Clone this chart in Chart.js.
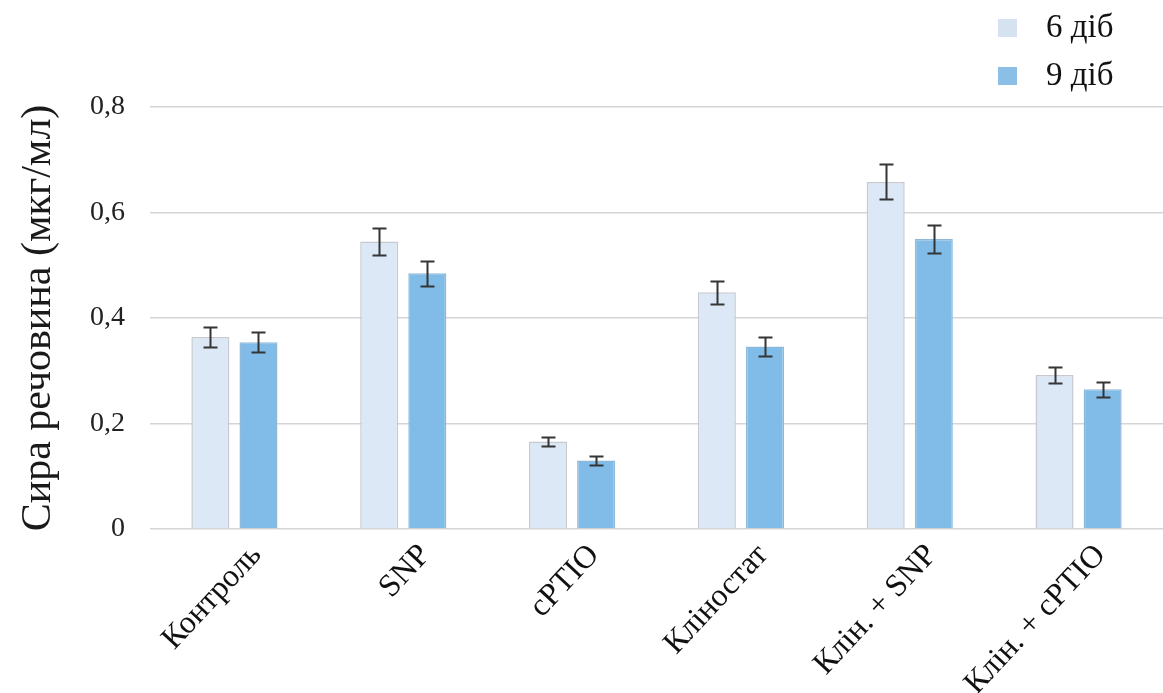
<!DOCTYPE html>
<html>
<head>
<meta charset="utf-8">
<script src="https://cdn.jsdelivr.net/npm/chart.js@4.4.1/dist/chart.umd.min.js"></script>
<style>
  html, body { margin: 0; padding: 0; background: #ffffff; }
  #wrap { width: 1163px; height: 693px; position: relative; }
</style>
</head>
<body>
<div id="wrap"><canvas id="chart"></canvas></div>
<script>
// Treatments along the x axis
const categories = ['Контроль', 'SNP', 'cPTIO', 'Кліностат', 'Клін. + SNP', 'Клін. + cPTIO'];
// Series names
const seriesNames = ['6 діб', '9 діб'];
// Mean fresh matter, µg/ml
const days6 = [0.364, 0.545, 0.166, 0.449, 0.658, 0.292];
const days9 = [0.354, 0.485, 0.130, 0.346, 0.550, 0.265];
// Standard errors
const err6 = [0.019, 0.026, 0.008, 0.022, 0.033, 0.016];
const err9 = [0.019, 0.024, 0.008, 0.018, 0.027, 0.014];
// Value axis ticks and their printed labels
const yTicks = [0, 0.2, 0.4, 0.6, 0.8];
const yTickLabels = ['0', '0,2', '0,4', '0,6', '0,8'];
const yTitle = 'Сира речовина (мкг/мл)';

const SERIF = "'Liberation Serif', 'Times New Roman', serif";

// Whiskers: mean ± error, drawn on top of every bar
const errorBars = {
  id: 'errorBars',
  afterDatasetsDraw(chart) {
    const ctx = chart.ctx;
    const y = chart.scales.y;
    chart.data.datasets.forEach((ds, di) => {
      const meta = chart.getDatasetMeta(di);
      meta.data.forEach((bar, i) => {
        const v = ds.data[i], e = ds.errors[i];
        const yt = Math.round(y.getPixelForValue(v + e)) + 0.5;
        const yb = Math.round(y.getPixelForValue(v - e)) + 0.5;
        const x = Math.round(bar.x) + 0.5;
        ctx.save();
        ctx.strokeStyle = '#353535';
        ctx.lineWidth = 2;
        ctx.beginPath();
        ctx.moveTo(x, yt); ctx.lineTo(x, yb);
        ctx.moveTo(x - 7, yt); ctx.lineTo(x + 7, yt);
        ctx.moveTo(x - 7, yb); ctx.lineTo(x + 7, yb);
        ctx.stroke();
        ctx.restore();
      });
    });
  }
};

// Legend in the top-right corner: colour square + series name per row
const cornerLegend = {
  id: 'cornerLegend',
  afterDraw(chart) {
    const ctx = chart.ctx;
    const rows = [28, 76];
    ctx.save();
    ctx.font = '33px ' + SERIF;
    ctx.textBaseline = 'middle';
    ctx.textAlign = 'left';
    chart.data.datasets.forEach((ds, i) => {
      const cy = rows[i];
      ctx.fillStyle = ds.legendColor;
      ctx.fillRect(998, cy - 9, 19, 18);
      ctx.fillStyle = '#111111';
      ctx.fillText(ds.label, 1046, cy);
    });
    ctx.restore();
  }
};

new Chart(document.getElementById('chart'), {
  type: 'bar',
  data: {
    labels: categories,
    datasets: [
      {
        label: seriesNames[0],
        data: days6,
        errors: err6,
        backgroundColor: '#dce8f6',
        borderColor: '#c6cad0',
        borderWidth: 1.5,
        legendColor: '#d6e2f0',
        categoryPercentage: 0.57,
        barPercentage: 0.79
      },
      {
        label: seriesNames[1],
        data: days9,
        errors: err9,
        backgroundColor: '#80bce7',
        borderColor: '#8db8da',
        borderWidth: 1.5,
        legendColor: '#8cbfe6',
        categoryPercentage: 0.57,
        barPercentage: 0.79
      }
    ]
  },
  options: {
    responsive: true,
    maintainAspectRatio: false,
    devicePixelRatio: 1,
    animation: false,
    layout: { padding: { top: 107, right: 0, bottom: 0, left: 0 } },
    plugins: {
      legend: { display: false },
      tooltip: { enabled: false }
    },
    scales: {
      x: {
        grid: { display: false },
        border: { display: false },
        ticks: {
          font: { family: SERIF, size: 32 },
          color: '#111111',
          minRotation: 47,
          maxRotation: 47,
          labelOffset: 22,
          padding: 0,
          autoSkip: false
        },
        afterFit(scale) {
          scale.height = 693 - 529;
          scale.paddingLeft = 0;
          scale.paddingRight = 0;
        }
      },
      y: {
        min: 0,
        max: 0.8,
        afterBuildTicks(scale) {
          scale.ticks = yTicks.map(v => ({ value: v }));
        },
        grid: { color: '#d5d5d5', lineWidth: 1.5, drawTicks: false },
        border: { display: false },
        ticks: {
          font: { family: SERIF, size: 28 },
          color: '#222222',
          padding: 25,
          callback(value) {
            const i = yTicks.findIndex(t => Math.abs(t - value) < 1e-9);
            return i >= 0 ? yTickLabels[i] : '';
          }
        },
        title: {
          display: true,
          text: yTitle,
          font: { family: SERIF, size: 42 },
          color: '#1a1a1a',
          padding: { top: 14, bottom: 0 }
        },
        afterFit(scale) {
          scale.width = 150;
          scale.paddingTop = 0;
          scale.paddingBottom = 0;
        }
      }
    }
  },
  plugins: [errorBars, cornerLegend]
});
</script>
</body>
</html>
